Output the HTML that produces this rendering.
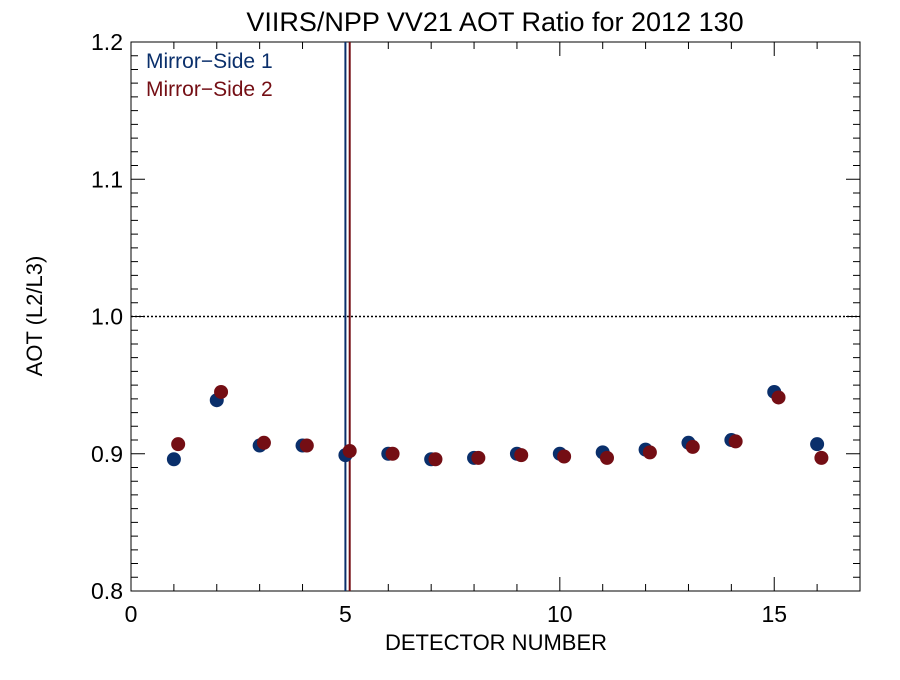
<!DOCTYPE html>
<html><head><meta charset="utf-8"><style>
body{margin:0;background:#fff;}
svg text{font-family:"Liberation Sans",sans-serif;}
</style></head><body>
<svg id="c" width="900" height="675" viewBox="0 0 900 675">
<text x="495" y="31" font-size="27" text-anchor="middle">VIIRS/NPP VV21 AOT Ratio for 2012 130</text>
<text x="496" y="650" font-size="22" text-anchor="middle">DETECTOR NUMBER</text>
<text transform="translate(42,316) rotate(-90)" font-size="22" text-anchor="middle">AOT (L2/L3)</text>
<g id="g"></g>
<text x="146" y="68" font-size="21" fill="#0a2f6b">Mirror−Side 1</text>
<text x="146" y="96" font-size="21" fill="#740e14">Mirror−Side 2</text>
</svg>
<script>
const detectors=[1,2,3,4,5,6,7,8,9,10,11,12,13,14,15,16];
const ms1=[0.896,0.939,0.906,0.906,0.899,0.900,0.896,0.897,0.900,0.900,0.901,0.903,0.908,0.910,0.945,0.907];
const ms2=[0.907,0.945,0.908,0.906,0.902,0.900,0.896,0.897,0.899,0.898,0.897,0.901,0.905,0.909,0.941,0.897];
const xTicks=[0,5,10,15];
const yTicks=[0.8,0.9,1.0,1.1,1.2];
const yLabels=["0.8","0.9","1.0","1.1","1.2"];
const refLine=1.0;
const ms1Line=5, ms2Line=5.1;
const L=131,R=860,T=42,B=591,X0=0,X1=17,Y0=0.8,Y1=1.2;
const sx=v=>L+(v-X0)/(X1-X0)*(R-L);
const sy=v=>B-(v-Y0)/(Y1-Y0)*(B-T);
const g=document.getElementById('g');
const NS='http://www.w3.org/2000/svg';
function mk(t,a){const e=document.createElementNS(NS,t);for(const k in a)e.setAttribute(k,a[k]);g.appendChild(e);return e;}
let e;
e=mk('rect',{x:L,y:T,width:R-L,height:B-T,fill:'none',stroke:'#000','stroke-width':1});


for(let v=X0;v<=X1;v++){const len=v%5===0?14:7;
 e=mk('path',{d:`M${sx(v)},${B}v${-len}M${sx(v)},${T}v${len}`,stroke:'#000'});
 
 }
for(let i=0;i<=40;i++){const v=Y0+i*0.01;const len=i%10===0?14:7;
 e=mk('path',{d:`M${L},${sy(v)}h${len}M${R},${sy(v)}h${-len}`,stroke:'#000'});
 
 }
xTicks.forEach(v=>{e=mk('text',{x:sx(v),y:B+31,'font-size':23,'text-anchor':'middle'});e.textContent=v;
 
 });
yTicks.forEach((v,i)=>{e=mk('text',{x:L-8,y:sy(v)+8,'font-size':23,'text-anchor':'end'});e.textContent=yLabels[i];
 
 });
e=mk('line',{x1:L,x2:R,y1:sy(refLine),y2:sy(refLine),stroke:'#000','stroke-dasharray':'2,2','stroke-width':1.5});


e=mk('line',{x1:sx(ms1Line),x2:sx(ms1Line),y1:T,y2:B,stroke:'#0a2f6b','stroke-width':2});


e=mk('line',{x1:sx(ms2Line),x2:sx(ms2Line),y1:T,y2:B,stroke:'#740e14','stroke-width':2});


detectors.forEach((d,i)=>{
 e=mk('circle',{cx:sx(d),cy:sy(ms1[i]),r:7,fill:'#0a2f6b'});
 
 
 e=mk('circle',{cx:sx(d+0.1),cy:sy(ms2[i]),r:7,fill:'#740e14'});
 
 
});
</script>
</body></html>
